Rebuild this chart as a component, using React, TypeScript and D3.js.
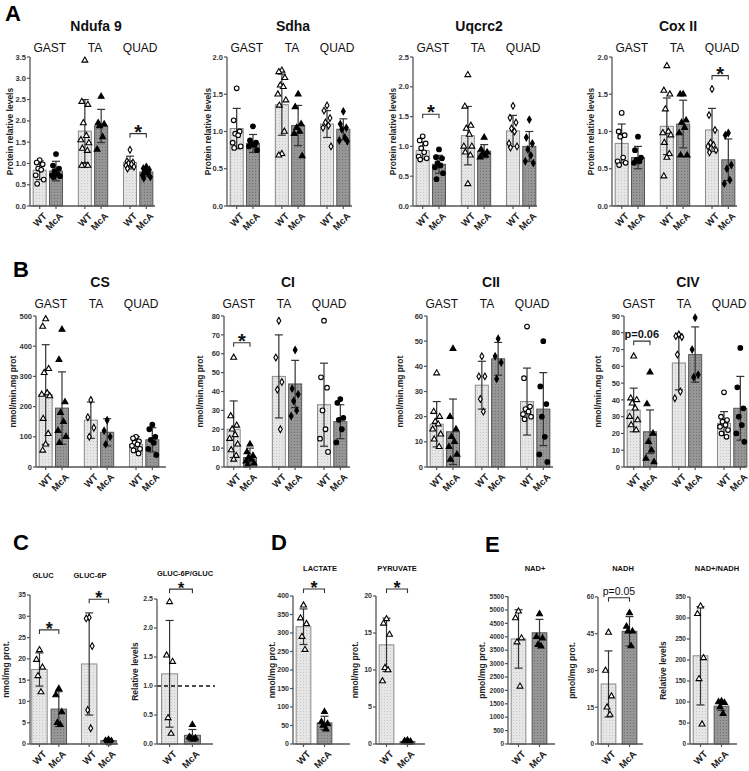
import React from 'react';
import * as d3 from 'd3';

const FONT = '"Liberation Sans", Arial, sans-serif';
const MUSCLES = ['GAST', 'TA', 'QUAD'];
const CONDS = ['WT', 'McA'];

// ---- A: western blots (GAST WT, GAST McA, TA WT, TA McA, QUAD WT, QUAD McA)
const ndufaMean = [0.84, 0.82, 1.76, 1.88, 1.02, 0.8];
const ndufaSd = [0.22, 0.23, 0.74, 0.39, 0.15, 0.1];
const ndufaPts = [
  [1.08, 1.02, 0.98, 0.88, 0.85, 0.72, 0.62, 0.52],
  [1.22, 0.95, 0.88, 0.82, 0.75, 0.72, 0.7, 0.68],
  [3.42, 2.45, 2.38, 1.95, 1.65, 1.55, 1.48, 1.35, 1.3, 0.95, 0.95, 0.95],
  [2.57, 1.95, 1.92, 1.88, 1.62, 1.33],
  [1.32, 1.05, 1.02, 1.0, 0.98, 0.95, 0.92, 0.88],
  [0.92, 0.88, 0.85, 0.8, 0.78, 0.72, 0.68, 0.65],
];
const sdhaMean = [1.04, 0.84, 1.36, 1.08, 1.1, 1.03];
const sdhaSd = [0.27, 0.12, 0.41, 0.27, 0.18, 0.14];
const sdhaPts = [
  [1.58, 1.15, 1.0, 0.97, 0.95, 0.85, 0.8, 0.78],
  [1.07, 0.88, 0.85, 0.83, 0.82, 0.8, 0.75],
  [1.82, 1.8, 1.72, 1.62, 1.6, 1.5, 1.42, 1.35, 1.0, 0.7, 0.68],
  [1.5, 1.33, 1.1, 1.05, 1.0, 0.97, 0.67],
  [1.35, 1.28, 1.18, 1.12, 1.08, 1.05, 0.8],
  [1.27, 1.1, 1.05, 1.03, 0.92, 0.88, 0.87],
];
const uqcrcMean = [0.93, 0.7, 1.18, 0.92, 1.26, 1.0];
const uqcrcSd = [0.14, 0.15, 0.49, 0.11, 0.26, 0.25];
const uqcrcPts = [
  [1.17, 1.1, 1.05, 0.97, 0.9, 0.83, 0.8, 0.78],
  [0.95, 0.82, 0.8, 0.72, 0.68, 0.65, 0.55, 0.45],
  [2.2, 1.67, 1.35, 1.3, 1.2, 1.0, 1.0, 0.9, 0.85, 0.37],
  [1.15, 0.95, 0.9, 0.88, 0.85, 0.82],
  [1.68, 1.48, 1.4, 1.3, 1.25, 1.05, 1.0, 0.98],
  [1.45, 1.15, 1.05, 0.95, 0.85, 0.75, 0.72],
];
const coxMean = [0.84, 0.65, 1.07, 1.1, 1.02, 0.62];
const coxSd = [0.26, 0.15, 0.38, 0.32, 0.29, 0.28];
const coxPts = [
  [1.25, 1.0, 0.95, 0.93, 0.65, 0.6, 0.58, 0.55],
  [0.93, 0.75, 0.65, 0.62, 0.6, 0.58],
  [1.88, 1.55, 1.5, 1.3, 1.0, 0.98, 0.95, 0.85, 0.7, 0.65, 0.4],
  [1.5, 1.5, 1.15, 1.12, 1.05, 0.98, 0.68, 0.68],
  [1.57, 1.22, 1.02, 0.85, 0.82, 0.8, 0.75, 0.72],
  [0.98, 0.95, 0.55, 0.5, 0.35, 0.3],
];

// ---- B: enzyme activities
const csMean = [240, 195, 155, 115, 75, 90];
const csSd = [165, 120, 60, 45, 25, 40];
const csPts = [
  [490, 465, 325, 312, 245, 240, 235, 160, 110, 75, 55],
  [455, 355, 215, 180, 150, 120, 100, 80],
  [222, 165, 130, 100],
  [155, 120, 100, 75],
  [100, 95, 85, 80, 75, 70, 60, 55, 45],
  [140, 125, 100, 90, 80, 60, 40],
];
const ciMean = [20, 5, 48, 44, 33, 24];
const ciSd = [15, 5, 22, 12.5, 22, 9];
const ciPts = [
  [58, 27, 22, 20, 17, 15, 12, 9, 6, 4],
  [12, 8, 6, 5, 4, 3, 2, 1],
  [77.5, 58, 45, 41, 20],
  [62, 41.5, 38.5, 35, 30, 27],
  [77.5, 47.5, 42, 30, 20, 15, 8],
  [36, 34, 26, 25, 20, 13],
];
const ciiMean = [17, 14, 32.5, 43, 26, 23];
const ciiSd = [9, 13, 9.5, 6.5, 13.3, 14.5];
const ciiPts = [
  [37.3, 22, 20, 18, 17, 15, 13, 11, 8],
  [47, 20, 15, 12, 10, 8, 5, 3],
  [44, 36, 36, 27, 22],
  [51, 44, 41.5, 35],
  [55.8, 35.3, 24, 23, 22, 21, 20, 19],
  [50, 32, 25, 20, 12, 5, 2],
];
const civMean = [34, 21, 62, 67, 26, 35];
const civSd = [13, 13, 16, 16.5, 7, 19];
const civPts = [
  [66, 41, 40, 38, 35, 30, 28, 25, 22],
  [56.5, 37.5, 20, 15, 10, 5, 3],
  [79, 78, 77.5, 67, 45, 41],
  [89, 70, 55, 53.5],
  [44.5, 30, 28, 27, 25, 24, 22, 20, 18],
  [71, 47.5, 35, 30, 25, 20, 15],
];

// ---- C, D, E: metabolites
const glucGroups = ['GLUC', 'GLUC-6P'];
const glucMean = [17.5, 8.2, 18.8, 0.8];
const glucSd = [3.9, 4.1, 12, 0.3];
const glucPts = [
  [22.1, 19.8, 18, 16, 12.2],
  [13, 11.5, 7.5, 5, 4.5],
  [29.7, 29.5, 23, 8, 3.7],
  [1.0, 0.8, 0.7, 0.6, 0.5],
];
const g6pRatioMean = [1.21, 0.15];
const g6pRatioSd = [0.92, 0.1];
const g6pRatioPts = [[2.45, 1.53, 1.42, 0.45, 0.18], [0.33, 0.12, 0.1, 0.1, 0.08]];
const lactMean = [317, 57];
const lactSd = [48, 18];
const lactPts = [[375, 340, 325, 290, 255], [87, 60, 55, 50, 40]];
const pyrMean = [13.4, 0.35];
const pyrSd = [3.6, 0.15];
const pyrPts = [[16.9, 16.3, 14.8, 10.3, 10, 8.5], [0.5, 0.4, 0.35, 0.3, 0.2]];
const nadMean = [3920, 4150];
const nadSd = [1090, 500];
const nadPts = [[4950, 4700, 3950, 3800, 2150], [4850, 4000, 3950, 3700, 3650]];
const nadhMean = [24.5, 46];
const nadhSd = [13.5, 6];
const nadhPts = [[45.5, 30, 19.5, 15, 12], [53.5, 48, 46, 46, 40]];
const nadRatioMean = [210, 90];
const nadRatioSd = [117, 10];
const nadRatioPts = [[328, 310, 205, 155, 47], [102, 100, 98, 88, 72]];

const JIT = [0, -3, 3, -1.5, 1.5, -4, 4, -2.5, 2.5, 0, -3, 3];
const SIZE: Record<string, number> = { circle: 17, triangle: 15, diamond: 13 };
const SHAPES: Record<string, d3.SymbolType> = {
  circle: d3.symbolCircle, triangle: d3.symbolTriangle, diamond: d3.symbolDiamond,
};

type Sig = { a: number; b: number; v: number; label: string; bold?: boolean; size?: number };
type Title = { text: string; x: number; y: number; size: number; bold?: boolean };

type PanelProps = {
  x0: number; x1: number; bandW: number; opi: number; opo: number; ipi: number; ipo: number;
  yTop: number; yBot: number; yMax: number; step: number; fmt: string;
  groups: string[]; groupLabelY?: number; groupDx?: number; titles: Title[];
  ylabel: string; ylabelX: number; tickFont: number; xFont: number;
  mean: number[]; sd: number[]; pts: number[][]; shapes: string[];
  sig?: Sig[]; dashed?: number;
};

function Panel(p: PanelProps) {
  const y = d3.scaleLinear().domain([0, p.yMax]).range([p.yBot, p.yTop]);
  const outer = d3.scaleBand<string>().domain(p.groups).range([p.x0, p.x0 + p.bandW])
    .paddingInner(p.opi).paddingOuter(p.opo);
  const inner = d3.scaleBand<string>().domain(CONDS).range([0, outer.bandwidth()])
    .paddingInner(p.ipi).paddingOuter(p.ipo);
  const ticks = d3.range(0, p.yMax + p.step / 2, p.step);
  const fmt = d3.format(p.fmt);
  const bw = inner.bandwidth();
  const bars = p.mean.map((m, i) => {
    const g = p.groups[Math.floor(i / 2)];
    const c = CONDS[i % 2];
    const left = (outer(g) as number) + (inner(c) as number);
    return { i, m, sd: p.sd[i], pts: p.pts[i], left, cx: left + bw / 2, c, shape: p.shapes[Math.floor(i / 2)] };
  });
  const midY = (p.yTop + p.yBot) / 2;
  return (
    <g fontFamily={FONT}>
      {p.titles.map((t, k) => (
        <text key={k} x={t.x} y={t.y} textAnchor="middle" fontSize={t.size}
          fontWeight={t.bold ? 'bold' : 'normal'} fill="#111">{t.text}</text>
      ))}
      {p.groupLabelY !== undefined && p.groups.map(g => (
        <text key={g} x={(outer(g) as number) + outer.bandwidth() / 2 + (p.groupDx || 0)} y={p.groupLabelY}
          textAnchor="middle" fontSize={12} fill="#111">{g}</text>
      ))}
      <text transform={`translate(${p.ylabelX},${midY}) rotate(-90)`} textAnchor="middle" dy="0.35em"
        fontSize={8.5} fontWeight="bold" fill="#222">{p.ylabel}</text>
      {bars.map(b => (
        <rect key={'b' + b.i} x={b.left} y={y(b.m)} width={bw} height={p.yBot - y(b.m)}
          fill={b.c === 'WT' ? 'url(#dotLight)' : 'url(#dotDark)'}
          stroke={b.c === 'WT' ? '#8a8a8a' : '#555'} strokeWidth={1} />
      ))}
      {p.dashed !== undefined && (
        <line x1={p.x0} x2={p.x1 + 2} y1={y(p.dashed)} y2={y(p.dashed)} stroke="#111"
          strokeWidth={1.3} strokeDasharray="4,3" />
      )}
      {bars.map(b => (
        <g key={'e' + b.i} stroke="#333" strokeWidth={1.2}>
          <line x1={b.cx} x2={b.cx} y1={y(b.m + b.sd)} y2={y(Math.max(0, b.m - b.sd))} />
          <line x1={b.cx - 4} x2={b.cx + 4} y1={y(b.m + b.sd)} y2={y(b.m + b.sd)} />
          {b.m - b.sd > 0 && <line x1={b.cx - 4} x2={b.cx + 4} y1={y(b.m - b.sd)} y2={y(b.m - b.sd)} />}
        </g>
      ))}
      {bars.map(b => b.pts.map((v, k) => {
        const path = d3.symbol().type(SHAPES[b.shape]).size(SIZE[b.shape])() as string;
        return (
          <path key={'p' + b.i + '-' + k} d={path}
            transform={`translate(${b.cx + JIT[k % JIT.length]},${y(v)})`}
            fill={b.c === 'WT' ? '#fff' : '#000'} stroke="#000" strokeWidth={1.1} />
        );
      }))}
      {/* axes */}
      <line x1={p.x0} x2={p.x0} y1={p.yBot} y2={y(p.yMax)} stroke="#555" strokeWidth={1.3} />
      <line x1={p.x0} x2={p.x1} y1={p.yBot} y2={p.yBot} stroke="#555" strokeWidth={1.3} />
      {ticks.map(t => (
        <g key={'t' + t}>
          <line x1={p.x0 - 3} x2={p.x0} y1={y(t)} y2={y(t)} stroke="#555" strokeWidth={1.2} />
          <text x={p.x0 - 4} y={y(t)} dy="0.35em" textAnchor="end" fontSize={p.tickFont}
            fontWeight="bold" fill="#333">{fmt(t)}</text>
        </g>
      ))}
      {bars.map(b => (
        <g key={'x' + b.i}>
          <line x1={b.cx} x2={b.cx} y1={p.yBot} y2={p.yBot + 3} stroke="#555" strokeWidth={1.2} />
          <text transform={`translate(${b.cx + 3},${p.yBot + 6}) rotate(-45)`} textAnchor="end" dy="0.7em"
            fontSize={p.xFont} fontWeight="bold" fill="#222">{b.c}</text>
        </g>
      ))}
      {(p.sig || []).map((s, k) => {
        const xa = bars[s.a].cx, xb = bars[s.b].cx, yy = y(s.v);
        const isStar = s.label === '*';
        return (
          <g key={'s' + k}>
            <path d={`M${xa},${yy + 4}V${yy}H${xb}V${yy + 4}`} fill="none" stroke="#333" strokeWidth={1.1} />
            <text x={(xa + xb) / 2} y={isStar ? yy + 5 : yy - 3} textAnchor="middle"
              fontSize={s.size || (isStar ? 20 : 11)} fontWeight={s.bold === false ? 'normal' : 'bold'}
              fill="#111">{s.label}</text>
          </g>
        );
      })}
    </g>
  );
}

const A_BASE = { bandW: 126, opi: 0.35, opo: 0.07, ipi: 0.2, ipo: 0, yTop: 57, yBot: 206, step: 0.5,
  fmt: '.1f', groups: MUSCLES, groupLabelY: 52, groupDx: 2, ylabel: 'Protein relative levels',
  tickFont: 7.5, xFont: 9.5, shapes: ['circle', 'triangle', 'diamond'] };
const B_BASE = { bandW: 126, opi: 0.35, opo: 0.07, ipi: 0.2, ipo: 0, yTop: 316, yBot: 467, step: 10,
  fmt: 'd', groups: MUSCLES, groupLabelY: 308, groupDx: -3, ylabel: 'nmol/min.mg prot',
  tickFont: 7.5, xFont: 9.5, shapes: ['triangle', 'diamond', 'circle'] };
const S_BASE = { bandW: 42, opi: 0, opo: 0, ipi: 0.3, ipo: 0.15, yBot: 744, groups: [''],
  tickFont: 7, xFont: 9.5, shapes: ['triangle'] };

export default function App() {
  const aTitle = (text: string, x0: number): Title[] => [{ text, x: x0 + 66, y: 31, size: 14, bold: true }];
  const bTitle = (text: string, x0: number): Title[] => [{ text, x: x0 + 64, y: 287, size: 14, bold: true }];
  const ct = (text: string, x: number, y = 571): Title[] => [{ text, x, y, size: 7.5, bold: true }];
  return (
    <svg width={749} height={771} style={{ position: 'absolute', left: 0, top: 0, background: '#fff' }}>
      <defs>
        <pattern id="dotLight" width="3" height="3" patternUnits="userSpaceOnUse">
          <rect width="3" height="3" fill="#e6e6e6" />
          <rect width="1" height="1" fill="#c6c6c6" />
        </pattern>
        <pattern id="dotDark" width="3" height="3" patternUnits="userSpaceOnUse">
          <rect width="3" height="3" fill="#969696" />
          <rect width="1" height="1" fill="#727272" />
        </pattern>
      </defs>
      <g fontFamily={FONT} fontWeight="bold" fontSize={22} fill="#000">
        <text x={5} y={21}>A</text>
        <text x={13} y={277}>B</text>
        <text x={13} y={550}>C</text>
        <text x={271} y={550}>D</text>
        <text x={485} y={552}>E</text>
      </g>

      <Panel {...A_BASE} x0={30} x1={155} yMax={3.5} titles={aTitle('Ndufa 9', 30)} ylabelX={10}
        mean={ndufaMean} sd={ndufaSd} pts={ndufaPts} sig={[{ a: 4, b: 5, v: 1.7, label: '*' }]} />
      <Panel {...A_BASE} x0={227} x1={352} yMax={2.0} titles={aTitle('Sdha', 227)} ylabelX={208}
        mean={sdhaMean} sd={sdhaSd} pts={sdhaPts} />
      <Panel {...A_BASE} x0={413} x1={537} yMax={2.5} titles={aTitle('Uqcrc2', 413)} ylabelX={393}
        mean={uqcrcMean} sd={uqcrcSd} pts={uqcrcPts} sig={[{ a: 0, b: 1, v: 1.54, label: '*' }]} />
      <Panel {...A_BASE} x0={612} x1={737} yMax={2.0} titles={aTitle('Cox II', 612)} ylabelX={591}
        mean={coxMean} sd={coxSd} pts={coxPts} sig={[{ a: 4, b: 5, v: 1.75, label: '*' }]} />

      <Panel {...B_BASE} x0={36} x1={166} yMax={500} step={100} titles={bTitle('CS', 36)} ylabelX={13}
        mean={csMean} sd={csSd} pts={csPts} />
      <Panel {...B_BASE} x0={224} x1={350} yMax={80} titles={bTitle('CI', 224)} ylabelX={200}
        mean={ciMean} sd={ciSd} pts={ciPts} sig={[{ a: 0, b: 1, v: 65.8, label: '*' }]} />
      <Panel {...B_BASE} x0={427} x1={553} yMax={60} titles={bTitle('CII', 427)} ylabelX={400}
        mean={ciiMean} sd={ciiSd} pts={ciiPts} />
      <Panel {...B_BASE} x0={624} x1={746} yMax={90} titles={bTitle('CIV', 624)} ylabelX={598}
        mean={civMean} sd={civSd} pts={civPts} sig={[{ a: 0, b: 1, v: 75, label: 'p=0.06', size: 11 }]} />

      <Panel {...S_BASE} x0={30} x1={118} bandW={88} opi={0.3} opo={0.035} ipi={0.2} ipo={0}
        groups={glucGroups} yTop={595} yMax={35} step={5} fmt="d"
        titles={[...ct('GLUC', 43, 578), ...ct('GLUC-6P', 90, 578)]}
        ylabel="nmol/mg prot." ylabelX={6} shapes={['triangle', 'diamond']}
        mean={glucMean} sd={glucSd} pts={glucPts}
        sig={[{ a: 0, b: 1, v: 26.8, label: '*', size: 18 }, { a: 2, b: 3, v: 34, label: '*', size: 18 }]} />
      <Panel {...S_BASE} x0={157} x1={213} bandW={48} ipo={0.2} yTop={599} yMax={2.5} step={0.5} fmt=".1f"
        titles={ct('GLUC-6P/GLUC', 185, 576)} ylabel="Relative levels" ylabelX={135} dashed={1.0}
        mean={g6pRatioMean} sd={g6pRatioSd} pts={g6pRatioPts}
        sig={[{ a: 0, b: 1, v: 2.67, label: '*', size: 16 }]} />

      <Panel {...S_BASE} x0={293} x1={350} yTop={596} yMax={400} step={50} fmt="d"
        titles={ct('LACTATE', 320)} ylabel="nmol/mg prot." ylabelX={272}
        mean={lactMean} sd={lactSd} pts={lactPts} sig={[{ a: 0, b: 1, v: 419, label: '*', size: 18 }]} />
      <Panel {...S_BASE} x0={376} x1={425} yTop={596} yMax={20} step={5} fmt="d"
        titles={ct('PYRUVATE', 397)} ylabel="nmol/mg prot." ylabelX={355}
        mean={pyrMean} sd={pyrSd} pts={pyrPts} sig={[{ a: 0, b: 1, v: 20.95, label: '*', size: 18 }]} />

      <Panel {...S_BASE} x0={508} x1={555} yTop={596.6} yMax={5500} step={500} fmt="d" tickFont={6.5}
        titles={ct('NAD+', 535)} ylabel="pmol/mg prot." ylabelX={482}
        mean={nadMean} sd={nadSd} pts={nadPts} />
      <Panel {...S_BASE} x0={598} x1={643} yTop={597} yMax={60} step={15} fmt="d" tickFont={6.5}
        titles={ct('NADH', 623)} ylabel="pmol/mg prot." ylabelX={572}
        mean={nadhMean} sd={nadhSd} pts={nadhPts}
        sig={[{ a: 0, b: 1, v: 59.7, label: 'p=0.05', bold: false, size: 10.5 }]} />
      <Panel {...S_BASE} x0={690} x1={737} yTop={597} yMax={350} step={50} fmt="d" tickFont={6.5}
        titles={ct('NAD+/NADH', 717)} ylabel="Relative levels" ylabelX={663}
        mean={nadRatioMean} sd={nadRatioSd} pts={nadRatioPts} />
    </svg>
  );
}
